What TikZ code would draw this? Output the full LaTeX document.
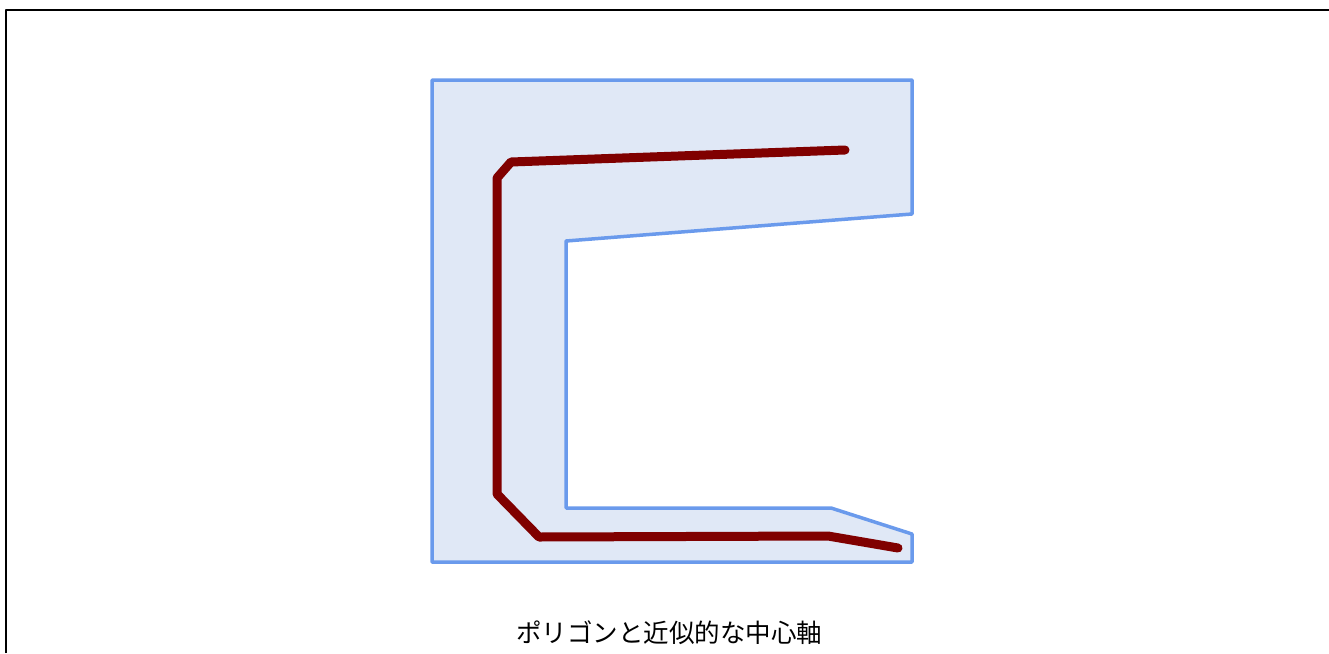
\documentclass[tikz,border=0pt]{standalone}
\usepackage{fontspec}
\newfontfamily\cjk{Noto Sans CJK JP}
\definecolor{polyfill}{HTML}{E0E8F6}
\definecolor{polyline}{HTML}{6A9AEC}
\definecolor{axisred}{HTML}{800000}
\begin{document}
\begin{tikzpicture}[x=1pt, y=-1pt, line join=round,
    polygon/.style={draw=polyline, fill=polyfill, line width=3.5pt},
    midaxis/.style={draw=axisred, line width=9pt, line cap=round},
    every node/.style={font=\cjk\fontsize{25.5}{30}\selectfont}]
        \useasboundingbox (0,0) rectangle (1329,653);
        \draw[line width=2pt] (6,653) -- (6,10) -- (1329,10);
        \draw[polygon] (432,80) -- (912,80) -- (912,214) -- (566,241) -- (566,508)
            -- (831,508) -- (912,534) -- (912,562) -- (432,562) -- cycle;
        \draw[midaxis] (845,150) -- (511,162) -- (497,178) -- (497,494)
            -- (539,537) -- (828,536) -- (898,548);
        \node (caption) at (669,633) {ポリゴンと近似的な中心軸};
    \end{tikzpicture}
\end{document}
